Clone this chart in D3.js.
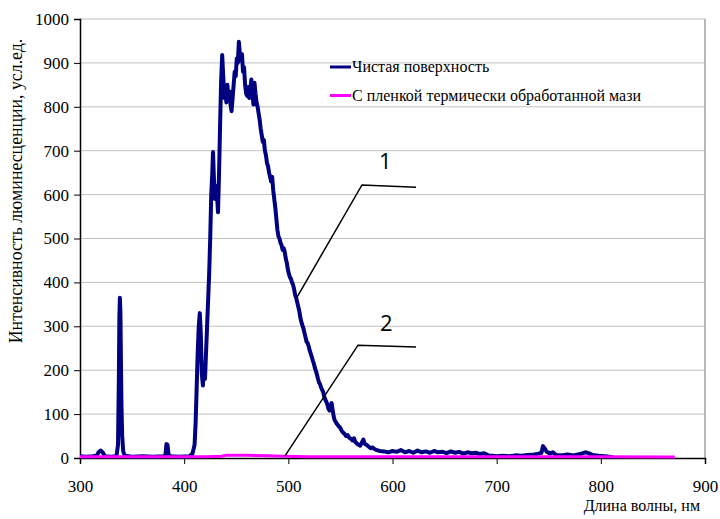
<!DOCTYPE html>
<html>
<head>
<meta charset="utf-8">
<script src="https://cdn.jsdelivr.net/npm/d3@7"></script>
<style>
  body { margin: 0; background: #fff; }
  svg text { font-family: "Liberation Serif", serif; fill: #000; }
</style>
</head>
<body>
<div id="chart"></div>
<script>
var chart_width  = 720;
var chart_height = 519;
var serif = "Liberation Serif, serif";

// Data: [wavelength nm, intensity]
var cleanSurface = [
  [300,4],[306,3],[312,4],[316,5],[318,14],[320,17],[322,12],[324,4],[330,3],[335,4],
  [336.5,30],[337.3,180],[337.8,320],[338.3,365],[338.8,330],[339.3,220],[339.8,120],[340.5,50],[341.5,15],[343,5],
  [350,3],[360,4],[370,3],[380,4],[382,6],[383,32],[384,30],[385,8],[387,4],[395,3],
  [405,4],[408,10],[410,30],[411,80],[412,160],[413,240],[414,300],[415,330],[416,280],[417,190],
  [418,165],[419,210],[420,180],[421,240],[422,300],[423,360],[424,420],[425,500],[426,600],[427,650],
  [427.7,697],[428.5,640],[429.5,590],[430.5,620],[431.5,600],[432.5,560],[433.5,650],[434.5,760],[435.5,860],[436.5,918],
  [437.5,870],[438.5,820],[439.5,840],[440.5,810],[441.5,850],[442.5,820],[443.5,835],[444.5,805],[445.5,790],[446.5,820],
  [447.5,850],[448.5,880],[449.5,870],[450.5,910],[451.5,900],[452.5,948],[453.5,920],[454.5,905],[455.5,920],[456.5,880],
  [457.5,890],[458.5,850],[459.5,830],[460.5,825],[461.5,845],[462.5,820],[463.5,840],[464.5,862],[465.5,830],[466.5,805],
  [467.5,855],[468.5,830],[469.5,810],[470.5,800],[471.5,785],[472.5,770],[473.5,750],[474.5,735],[475.5,720],[476.5,725],
  [477.5,700],[478.5,690],[479.5,672],[480.5,665],[481.5,650],[482.5,640],[483.5,630],[484.5,640],[485.5,610],[486.5,590],
  [487.5,570],[488.5,545],[489.5,520],[490.5,505],[491.5,500],[492.5,490],[493.5,485],[494.5,474],[495.5,478],[496.5,470],
  [497.5,455],[498.5,445],[499.5,430],[500.5,420],[501.5,412],[502.5,408],[503.5,400],[504.5,395],[505.5,385],[506.5,372],
  [507.5,365],[508.5,355],[509.5,345],[510.5,335],[511.5,320],[512.5,310],[513.5,302],[514.5,295],[515.5,285],[516.5,275],
  [517.5,265],[518.5,262],[519.5,255],[520.5,245],[521.5,238],[522.5,230],[523.5,222],[524.5,215],[525.5,205],[526.5,198],
  [527.5,190],[528.5,180],[529.5,172],[530.5,168],[531.5,160],[532.5,155],[533.5,150],[534.5,140],[535.5,133],[536.5,128],
  [537.5,122],[538.5,112],[539.5,108],[540.5,120],[541.5,125],[542.5,110],[543.5,95],[544.5,86],[545.5,82],[546.5,78],
  [547.5,75],[548.5,72],[549.5,70],[551,63],[552.5,58],[554,55],[555.5,50],[557,52],[558.5,46],[560,44],
  [561.5,40],[563,45],[564.5,36],[566,32],[567.5,30],[569,28],[570.5,35],[572,42],[573.5,32],[575,30],
  [577,26],[579,22],[581,24],[583,20],[585,18],[588,16],[592,15],[596,13],[600,16],[604,14],
  [608,18],[612,13],[616,16],[620,12],[624,17],[628,13],[632,15],[636,12],[640,16],[644,13],
  [648,14],[652,11],[656,15],[660,12],[664,14],[668,10],[672,13],[676,11],[680,12],[684,9],
  [688,11],[692,6],[696,5],[700,4],[706,5],[712,4],[718,6],[724,5],[730,7],[736,8],
  [740,10],[743,12],[744.5,27],[746,22],[748,14],[751,10],[754,13],[757,7],[762,6],[768,8],
  [774,6],[780,9],[785,13],[788,11],[792,7],[798,5],[804,4],[812,2]
];

var treatedFilm = [
  [300,3],[340,3],[380,3],[420,3],[436,4],[440,6],[460,6],[480,5],[495,4],[520,3],
  [600,3],[700,3],[800,3],[871,2]
];

var seriesNames  = ["Чистая поверхность", "С пленкой термически обработанной мази"];
var seriesColors = ["#000080", "#ff00ff"];

var xTicks = [300, 400, 500, 600, 700, 800, 900];
var yTicks = [0, 100, 200, 300, 400, 500, 600, 700, 800, 900, 1000];

// callout lines with number labels, in data units
var callouts = [
  { label: "1", pts: [[508,365],[570.7,622],[622.6,617]], at: [593,679] },
  { label: "2", pts: [[496.8,5],[566.9,257],[622.6,253]], at: [594,310] }
];

var margin = { left: 80, right: 15, top: 19, bottom: 61 };
var plot_w = chart_width - margin.left - margin.right;
var plot_h = chart_height - margin.top - margin.bottom;

var x = d3.scaleLinear().domain([300, 900]).range([0, plot_w]);
var y = d3.scaleLinear().domain([0, 1000]).range([plot_h, 0]);

var svg = d3.select("#chart")
    .append("svg")
    .attr("width", chart_width)
    .attr("height", chart_height)
    .attr("font-family", serif);

var g = svg.append("g")
    .attr("transform", "translate(" + margin.left + "," + margin.top + ")");

// gridlines
g.append("g")
  .selectAll("line")
  .data(yTicks.filter(function(d){ return d > 0; }))
  .enter()
  .append("line")
  .attr("x1", 0)
  .attr("x2", plot_w)
  .attr("y1", function(d){ return y(d); })
  .attr("y2", function(d){ return y(d); })
  .style("stroke", "#c0c0c0")
  .style("stroke-width", 1);

// right border of plot area
g.append("line")
  .attr("x1", plot_w).attr("x2", plot_w)
  .attr("y1", 0).attr("y2", plot_h)
  .style("stroke", "#a0a0a0")
  .style("stroke-width", 1.5);

// axes
var xAxis = g.append("g")
  .attr("transform", "translate(0," + plot_h + ")")
  .call(d3.axisBottom(x).tickValues(xTicks).tickSize(6).tickPadding(16).tickFormat(d3.format("d")));

var yAxis = g.append("g")
  .call(d3.axisLeft(y).tickValues(yTicks).tickSize(6).tickPadding(5).tickFormat(d3.format("d")));

[xAxis, yAxis].forEach(function(a){
  a.attr("font-family", serif).attr("font-size", 17);
  a.select(".domain").style("stroke", "#000").style("stroke-width", 1.5);
  a.selectAll(".tick line").style("stroke", "#000");
});

// lines
var line = d3.line()
  .x(function(d){ return x(d[0]); })
  .y(function(d){ return y(d[1]); });

g.append("path")
  .datum(cleanSurface)
  .attr("d", line)
  .style("fill", "none")
  .style("stroke", seriesColors[0])
  .style("stroke-width", 4)
  .style("stroke-linejoin", "round");

g.append("path")
  .datum(treatedFilm)
  .attr("d", line)
  .style("fill", "none")
  .style("stroke", seriesColors[1])
  .style("stroke-width", 3);

// callouts
callouts.forEach(function(c){
  g.append("path")
    .datum(c.pts)
    .attr("d", line)
    .style("fill", "none")
    .style("stroke", "#000")
    .style("stroke-width", 1.5);
  g.append("text")
    .attr("x", x(c.at[0]))
    .attr("y", y(c.at[1]))
    .attr("text-anchor", "middle")
    .attr("dominant-baseline", "central")
    .style("font-family", "Open Sans, Noto Sans, sans-serif")
    .style("font-size", "22px")
    .text(c.label);
});

// legend
var legend = svg.append("g").attr("transform", "translate(330,67)");
seriesNames.forEach(function(name, i){
  var row = legend.append("g").attr("transform", "translate(0," + (i * 28.5) + ")");
  row.append("line")
    .attr("x1", 0).attr("x2", 21)
    .style("stroke", seriesColors[i])
    .style("stroke-width", 3);
  row.append("text")
    .attr("x", 22)
    .attr("y", 5)
    .style("font-size", "16px")
    .text(name);
});

// axis titles
svg.append("text")
  .attr("transform", "translate(22,191) rotate(-90)")
  .attr("text-anchor", "middle")
  .style("font-size", "17.8px")
  .text("Интенсивность люминесценции, усл.ед.");

svg.append("text")
  .attr("x", 700)
  .attr("y", 511)
  .attr("text-anchor", "end")
  .style("font-size", "16px")
  .text("Длина волны, нм");
</script>
</body>
</html>
